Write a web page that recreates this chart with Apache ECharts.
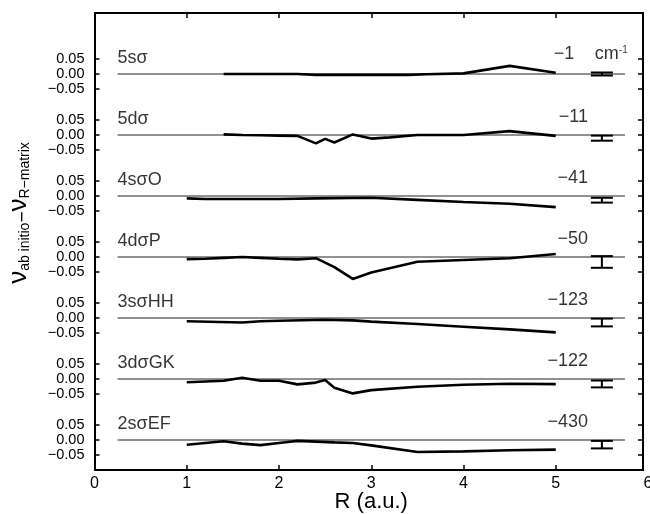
<!DOCTYPE html>
<html><head><meta charset="utf-8">
<script src="https://cdn.jsdelivr.net/npm/echarts@6/dist/echarts.min.js"></script>
<style>html,body{margin:0;padding:0;background:#fff}#c{width:650px;height:514px}</style>
</head><body><div id="c"></div>
<script>
// ---------- data ----------
const panelNames = ['5sσ', '5dσ', '4sσO', '4dσP', '3sσHH', '3dσGK', '2sσEF'];
const shiftLabels = ['−1', '−11', '−41', '−50', '−123', '−122', '−430'];

const x_5ss = [1.4, 1.6, 1.8, 2.0, 2.2, 2.4, 2.6, 2.8, 3.0, 3.2, 3.4, 3.6, 4.0, 4.5, 5.0];
const y_5ss = [0, 0, 0, 0, 0, -0.003, -0.003, -0.003, -0.003, -0.003, -0.003, -0.001, 0.002, 0.027, 0.004];

const x_5ds = [1.4, 1.6, 1.8, 2.0, 2.2, 2.4, 2.5, 2.6, 2.8, 3.0, 3.2, 3.5, 4.0, 4.5, 5.0];
const y_5ds = [0.002, 0, -0.001, -0.002, -0.003, -0.028, -0.013, -0.025, 0.002, -0.012, -0.008, 0.0, 0.0, 0.013, -0.003];

const x_4ssO = [1.0, 1.2, 1.6, 2.0, 2.4, 3.0, 3.5, 4.0, 4.5, 5.0];
const y_4ssO = [-0.008, -0.01, -0.01, -0.01, -0.008, -0.006, -0.013, -0.02, -0.026, -0.037];

const x_4dsP = [1.0, 1.2, 1.4, 1.6, 1.8, 2.0, 2.2, 2.4, 2.6, 2.8, 3.0, 3.5, 4.0, 4.5, 5.0];
const y_4dsP = [-0.007, -0.006, -0.003, 0, -0.003, -0.006, -0.008, -0.004, -0.034, -0.073, -0.052, -0.016, -0.01, -0.004, 0.01];

const x_3ssHH = [1.0, 1.6, 1.8, 2.0, 2.5, 2.8, 3.0, 3.5, 4.0, 4.5, 5.0];
const y_3ssHH = [-0.011, -0.015, -0.011, -0.009, -0.006, -0.008, -0.012, -0.02, -0.029, -0.038, -0.048];

const x_3dsGK = [1.0, 1.4, 1.6, 1.8, 2.0, 2.2, 2.4, 2.5, 2.6, 2.8, 3.0, 3.5, 4.0, 4.5, 5.0];
const y_3dsGK = [-0.011, -0.006, 0.004, -0.006, -0.006, -0.018, -0.012, -0.003, -0.029, -0.048, -0.037, -0.026, -0.019, -0.016, -0.017];

const x_2ssEF = [1.0, 1.4, 1.6, 1.8, 2.0, 2.2, 2.6, 2.8, 3.0, 3.5, 4.0, 4.5, 5.0];
const y_2ssEF = [-0.016, -0.004, -0.012, -0.017, -0.01, -0.003, -0.008, -0.01, -0.018, -0.04, -0.038, -0.034, -0.032];

const errX = 5.5;
const errHigh = [0.005, -0.002, -0.006, 0.003, -0.002, -0.005, -0.003];
const errLow = [-0.005, -0.019, -0.022, -0.036, -0.028, -0.028, -0.028];

const yTickValues = [-0.05, 0, 0.05];
const xTickLabels = [0, 1, 2, 3, 4, 5, 6];
const zeroLineRange = [0.25, 5.75];
const nameLabelPos = [0.25, 0.053];
const shiftLabelPos = [5.35, 0.06];
const unitLabelPos = [5.78, 0.066];

const panelX = [x_5ss, x_5ds, x_4ssO, x_4dsP, x_3ssHH, x_3dsGK, x_2ssEF];
const panelY = [y_5ss, y_5ds, y_4ssO, y_4dsP, y_3ssHH, y_3dsGK, y_2ssEF];

// ---------- layout ----------
const L = 94.5, W = 553.5, FT = 13, FH = 457, PT0 = 44, PSTEP = 61, PH = 60;
const FONT = 'Liberation Sans, Arial, Helvetica, sans-serif';

const grids = [{left: L, top: FT, width: W, height: FH, outerBoundsMode: 'none', containLabel: false}];
const xAxes = [
  {gridIndex: 0, type: 'value', min: 0, max: 6, interval: 1, position: 'bottom',
   axisLine: {show: false}, splitLine: {show: false},
   axisTick: {inside: true, length: 5, customValues: [1, 2, 3, 4, 5], lineStyle: {color: '#000', width: 1.5}},
   axisLabel: {customValues: xTickLabels, fontSize: 16, color: '#000', fontFamily: FONT, margin: 6},
   name: 'R (a.u.)', nameLocation: 'middle', nameGap: 21, nameMoveOverlap: false,
   nameTextStyle: {fontSize: 22, color: '#000', fontFamily: FONT}},
  {gridIndex: 0, type: 'value', min: 0, max: 6, interval: 1, position: 'top',
   axisLine: {show: false}, splitLine: {show: false}, axisLabel: {show: false},
   axisTick: {inside: true, length: 5, customValues: [1, 2, 3, 4, 5], lineStyle: {color: '#000', width: 1.5}}}
];
const yAxes = [{gridIndex: 0, type: 'value', min: 0, max: 1, show: false}];
const series = [];

const fmt = v => {
  const s = Math.abs(v).toFixed(2);
  return v < -1e-9 ? '\u2212' + s : s;
};

for (let i = 0; i < 7; i++) {
  const g = i + 1;
  grids.push({left: L, top: PT0 + PSTEP * i, width: W, height: PH, outerBoundsMode: 'none', containLabel: false});
  xAxes.push({gridIndex: g, type: 'value', min: 0, max: 6, show: false});
  const yl = yAxes.length;
  yAxes.push({gridIndex: g, type: 'value', min: -0.1, max: 0.1, position: 'left',
    axisLine: {show: false}, splitLine: {show: false},
    axisTick: {inside: true, length: 5, customValues: yTickValues, lineStyle: {color: '#000', width: 1.5}},
    axisLabel: {customValues: yTickValues, formatter: fmt, fontSize: 14.5, color: '#000', fontFamily: FONT, margin: 10}});
  yAxes.push({gridIndex: g, type: 'value', min: -0.1, max: 0.1, position: 'right', offset: -5,
    axisLine: {show: false}, splitLine: {show: false}, axisLabel: {show: false},
    axisTick: {inside: true, length: 5, customValues: yTickValues, lineStyle: {color: '#000', width: 1.5}}});

  // zero reference line
  series.push({type: 'line', xAxisIndex: g + 1, yAxisIndex: yl, silent: true, symbol: 'none',
    data: [[zeroLineRange[0], 0], [zeroLineRange[1], 0]],
    lineStyle: {color: '#222', width: 1}, z: 1});
  // data line
  series.push({type: 'line', xAxisIndex: g + 1, yAxisIndex: yl, symbol: 'none', silent: true,
    data: panelX[i].map((x, k) => [x, panelY[i][k]]),
    lineStyle: {color: '#000', width: 2.6}, z: 3});
  // error bar
  series.push({type: 'custom', xAxisIndex: g + 1, yAxisIndex: yl, silent: true, z: 4,
    data: [[errX, errLow[i], errHigh[i]]],
    renderItem: (params, api) => {
      const x = api.value(0);
      const pl = api.coord([x, api.value(1)]);
      const ph = api.coord([x, api.value(2)]);
      const hw = 11;
      const st = {stroke: '#000', lineWidth: 2};
      return {type: 'group', children: [
        {type: 'line', shape: {x1: pl[0] - hw, y1: pl[1], x2: pl[0] + hw, y2: pl[1]}, style: st},
        {type: 'line', shape: {x1: ph[0] - hw, y1: ph[1], x2: ph[0] + hw, y2: ph[1]}, style: st},
        {type: 'line', shape: {x1: pl[0], y1: pl[1], x2: ph[0], y2: ph[1]}, style: st}
      ]};
    }});
  // panel name
  series.push({type: 'scatter', xAxisIndex: g + 1, yAxisIndex: yl, symbolSize: 0, silent: true,
    data: [[nameLabelPos[0], nameLabelPos[1]]],
    label: {show: true, position: 'right', distance: 0, formatter: panelNames[i],
      fontSize: 18, color: '#000', fontFamily: FONT}});
  // shift number
  series.push({type: 'scatter', xAxisIndex: g + 1, yAxisIndex: yl, symbolSize: 0, silent: true,
    data: [[i === 0 ? 5.2 : shiftLabelPos[0], shiftLabelPos[1] + (i === 0 ? 0.006 : 0)]],
    label: {show: true, position: 'left', distance: 0, formatter: shiftLabels[i],
      fontSize: 18, color: '#000', fontFamily: FONT}});
  if (i === 0) {
    series.push({type: 'scatter', xAxisIndex: g + 1, yAxisIndex: yl, symbolSize: 0, silent: true,
      data: [[unitLabelPos[0], unitLabelPos[1]]],
      label: {show: true, position: 'left', distance: 0, formatter: '{u|cm}{s|-1}',
        rich: {u: {fontSize: 18, color: '#000', fontFamily: FONT, verticalAlign: 'bottom'},
               s: {fontSize: 10, color: '#000', fontFamily: FONT, verticalAlign: 'top'}}}});
  }
}

const chart = echarts.init(document.getElementById('c'), null, {renderer: 'canvas'});
chart.setOption({
  animation: false,
  backgroundColor: '#fff',
  grid: grids,
  xAxis: xAxes,
  yAxis: yAxes,
  series: series,
  graphic: [
    {type: 'rect', shape: {x: 95, y: 13, width: 548, height: 457}, silent: true, z: 10,
     style: {fill: 'none', stroke: '#000', lineWidth: 2}},
    {type: 'text', x: 19, y: 213, rotation: Math.PI / 2, silent: true, z: 10,
     style: {text: '{v|ν}{s|ab initio}{m|−}{v|ν}{s|R−matrix}', align: 'center', verticalAlign: 'middle',
       rich: {v: {fontSize: 26, fontFamily: FONT, fill: '#000', verticalAlign: 'bottom'},
              m: {fontSize: 19, fontFamily: FONT, fill: '#000', verticalAlign: 'bottom'},
              s: {fontSize: 14, fontFamily: FONT, fill: '#000', verticalAlign: 'bottom'}}}}
  ]
});
</script>
</body></html>
